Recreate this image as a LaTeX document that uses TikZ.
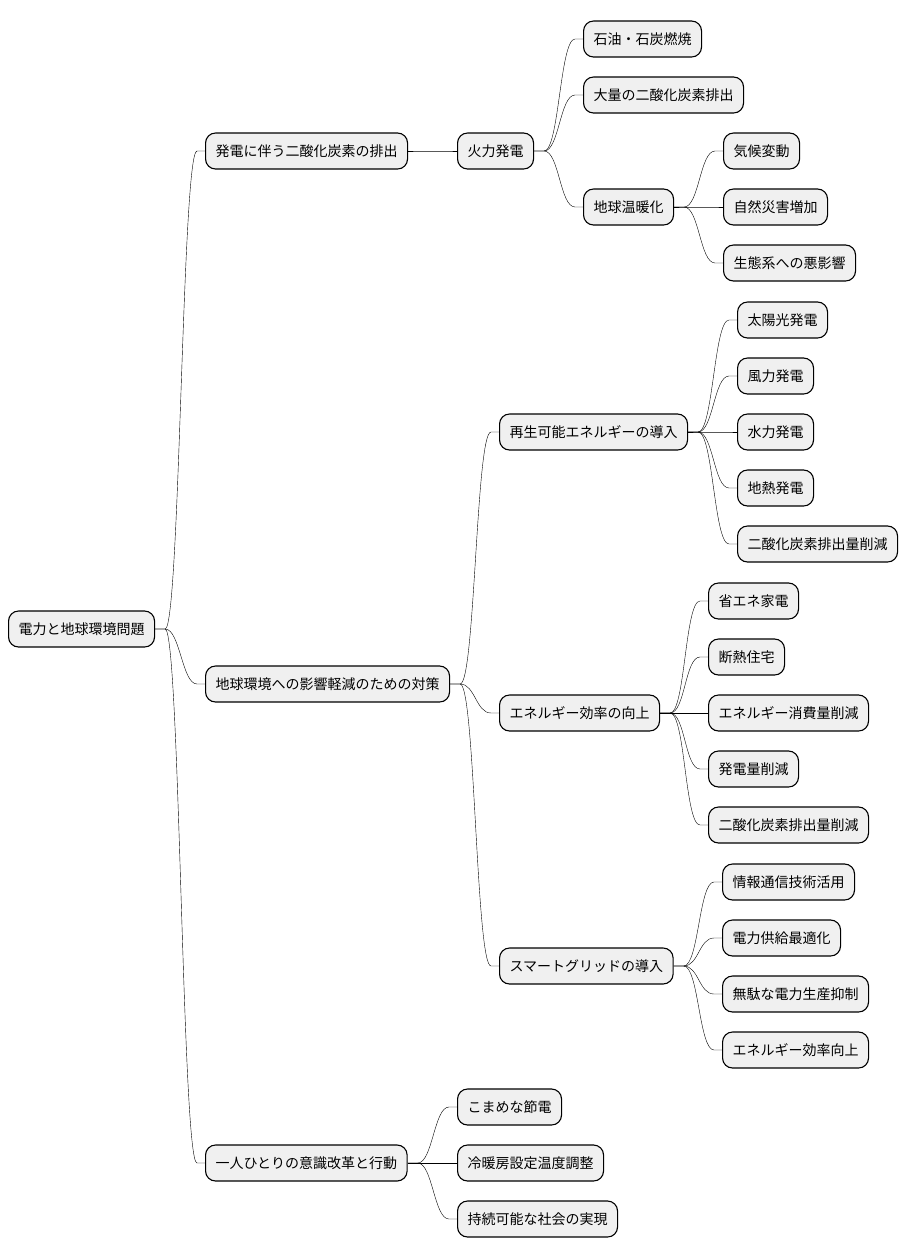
\documentclass[tikz,border=0pt]{standalone}
\usepackage{fontspec}
\setmainfont{Noto Sans CJK JP}
\usetikzlibrary{calc}

\begin{document}
\begin{tikzpicture}[x=1pt, y=-1pt,
  topic/.style={draw, line width=1.1pt, rounded corners=10pt, fill=black!6, anchor=west,
    minimum height=36pt, inner xsep=10pt, inner ysep=0pt, font=\fontsize{14}{16}\selectfont},
  branch/.style={line width=0.85pt, to path={-- ++(10,0) .. controls +(15,0) and +(-15,0) .. ($(\tikztotarget)+(-8,0)$) -- (\tikztotarget)}}]
  \useasboundingbox (0,0) rectangle (908,1259);

  \node[topic] (root) at (8,629) {電力と地球環境問題};

  % 第1階層
  \node[topic] (emit) at (205,151) {発電に伴う二酸化炭素の排出};
  \node[topic] (measure) at (205,684) {地球環境への影響軽減のための対策};
  \node[topic] (person) at (205,1163) {一人ひとりの意識改革と行動};

  % 発電に伴う排出
  \node[topic] (thermal) at (457,151) {火力発電};
  \node[topic] (oil) at (583,39) {石油・石炭燃焼};
  \node[topic] (co2) at (583,95) {大量の二酸化炭素排出};
  \node[topic] (warm) at (583,207) {地球温暖化};
  \node[topic] (climate) at (723,151) {気候変動};
  \node[topic] (disaster) at (723,207) {自然災害増加};
  \node[topic] (eco) at (723,263) {生態系への悪影響};

  % 対策
  \node[topic] (renew) at (499,432) {再生可能エネルギーの導入};
  \node[topic] (solar) at (737,320) {太陽光発電};
  \node[topic] (wind) at (737,376) {風力発電};
  \node[topic] (hydro) at (737,432) {水力発電};
  \node[topic] (geo) at (737,488) {地熱発電};
  \node[topic] (renewco2) at (737,544) {二酸化炭素排出量削減};

  \node[topic] (effic) at (499,713) {エネルギー効率の向上};
  \node[topic] (appliance) at (708,601) {省エネ家電};
  \node[topic] (insul) at (708,657) {断熱住宅};
  \node[topic] (consume) at (708,713) {エネルギー消費量削減};
  \node[topic] (gencut) at (708,769) {発電量削減};
  \node[topic] (efficco2) at (708,825) {二酸化炭素排出量削減};

  \node[topic] (smart) at (499,966) {スマートグリッドの導入};
  \node[topic] (ict) at (722,882) {情報通信技術活用};
  \node[topic] (supply) at (722,938) {電力供給最適化};
  \node[topic] (waste) at (722,994) {無駄な電力生産抑制};
  \node[topic] (effup) at (722,1050) {エネルギー効率向上};

  % 意識改革と行動
  \node[topic] (save) at (457,1107) {こまめな節電};
  \node[topic] (hvac) at (457,1163) {冷暖房設定温度調整};
  \node[topic] (sustain) at (457,1219) {持続可能な社会の実現};

  \foreach \a/\b in {root/emit, root/measure, root/person,
      emit/thermal, thermal/oil, thermal/co2, thermal/warm,
      warm/climate, warm/disaster, warm/eco,
      measure/renew, measure/effic, measure/smart,
      renew/solar, renew/wind, renew/hydro, renew/geo, renew/renewco2,
      effic/appliance, effic/insul, effic/consume, effic/gencut, effic/efficco2,
      smart/ict, smart/supply, smart/waste, smart/effup,
      person/save, person/hvac, person/sustain}
    \draw (\a.east) to[branch] (\b.west);
\end{tikzpicture}
\end{document}
